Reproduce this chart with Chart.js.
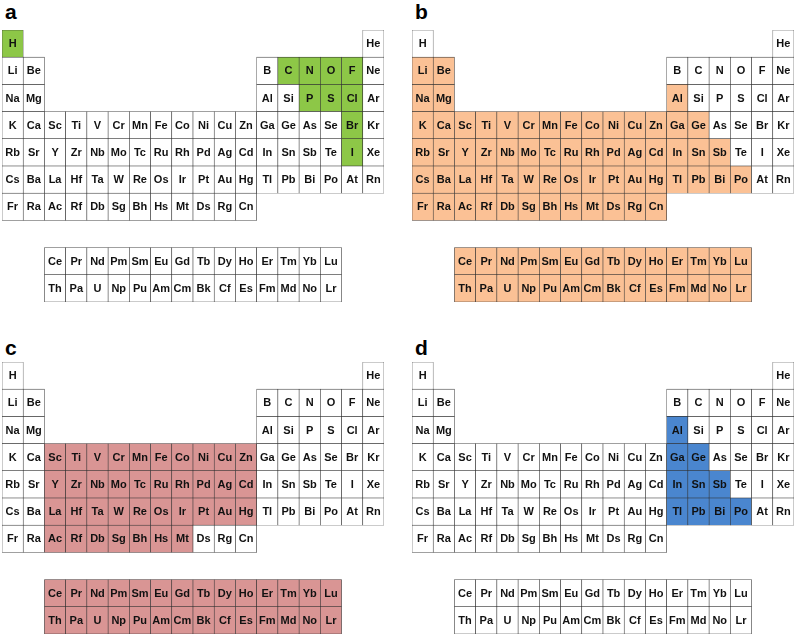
<!DOCTYPE html>
<html>
<head>
<meta charset="utf-8">
<script src="https://cdn.jsdelivr.net/npm/chart.js@4/dist/chart.umd.min.js"></script>
<style>
  body { margin: 0; background: #fff; width: 797px; height: 636px; position: relative; overflow: hidden; }
  .panel { position: absolute; width: 390px; height: 310px; }
  .tag { position: absolute; font: bold 21px "Liberation Sans", Arial, sans-serif; line-height: 21px; color: #000; }
</style>
</head>
<body>
<div class="tag" style="left:5px;top:1px">a</div>
<div class="tag" style="left:415px;top:1px">b</div>
<div class="tag" style="left:5px;top:337px">c</div>
<div class="tag" style="left:415px;top:337px">d</div>
<div class="panel" style="left:0;top:0"><canvas id="chartA" width="390" height="310"></canvas></div>
<div class="panel" style="left:410px;top:0"><canvas id="chartB" width="390" height="310"></canvas></div>
<div class="panel" style="left:0;top:332px"><canvas id="chartC" width="390" height="310"></canvas></div>
<div class="panel" style="left:410px;top:332px"><canvas id="chartD" width="390" height="310"></canvas></div>
<script>
// table layout, 18 groups per row ('' = empty cell)
const period1 = ['H','','','','','','','','','','','','','','','','','He'];
const period2 = ['Li','Be','','','','','','','','','','','B','C','N','O','F','Ne'];
const period3 = ['Na','Mg','','','','','','','','','','','Al','Si','P','S','Cl','Ar'];
const period4 = ['K','Ca','Sc','Ti','V','Cr','Mn','Fe','Co','Ni','Cu','Zn','Ga','Ge','As','Se','Br','Kr'];
const period5 = ['Rb','Sr','Y','Zr','Nb','Mo','Tc','Ru','Rh','Pd','Ag','Cd','In','Sn','Sb','Te','I','Xe'];
const period6 = ['Cs','Ba','La','Hf','Ta','W','Re','Os','Ir','Pt','Au','Hg','Tl','Pb','Bi','Po','At','Rn'];
const period7 = ['Fr','Ra','Ac','Rf','Db','Sg','Bh','Hs','Mt','Ds','Rg','Cn','','','','','',''];
const lanthanides = ['','','Ce','Pr','Nd','Pm','Sm','Eu','Gd','Tb','Dy','Ho','Er','Tm','Yb','Lu','',''];
const actinides = ['','','Th','Pa','U','Np','Pu','Am','Cm','Bk','Cf','Es','Fm','Md','No','Lr','',''];

const groupLabels = ['1','2','3','4','5','6','7','8','9','10','11','12','13','14','15','16','17','18'];
// row number of each block on the y scale (row 8 left empty)
const rowNumbers = [1, 2, 3, 4, 5, 6, 7, 9, 10];

// highlighted elements per panel
const highlightA = ['H','C','N','O','F','P','S','Cl','Br','I'];
const highlightB = ['Li','Be','Na','Mg','Al',
  'K','Ca','Sc','Ti','V','Cr','Mn','Fe','Co','Ni','Cu','Zn','Ga','Ge',
  'Rb','Sr','Y','Zr','Nb','Mo','Tc','Ru','Rh','Pd','Ag','Cd','In','Sn','Sb',
  'Cs','Ba','La','Hf','Ta','W','Re','Os','Ir','Pt','Au','Hg','Tl','Pb','Bi','Po',
  'Fr','Ra','Ac','Rf','Db','Sg','Bh','Hs','Mt','Ds','Rg','Cn',
  ...lanthanides.filter(s => s), ...actinides.filter(s => s)];
const highlightC = ['Sc','Ti','V','Cr','Mn','Fe','Co','Ni','Cu','Zn',
  'Y','Zr','Nb','Mo','Tc','Ru','Rh','Pd','Ag','Cd',
  'La','Hf','Ta','W','Re','Os','Ir','Pt','Au','Hg',
  'Ac','Rf','Db','Sg','Bh','Hs','Mt',
  ...lanthanides.filter(s => s), ...actinides.filter(s => s)];
const highlightD = ['Al','Ga','Ge','In','Sn','Sb','Tl','Pb','Bi','Po'];

const tableRows = [period1, period2, period3, period4, period5, period6, period7, lanthanides, actinides];

const cells = [];
tableRows.forEach((row, r) => {
  row.forEach((sym, g) => {
    if (sym) cells.push({ x: groupLabels[g], y: [rowNumbers[r] - 0.5, rowNumbers[r] + 0.5], sym: sym });
  });
});

const symbolLabels = {
  id: 'symbolLabels',
  afterDatasetsDraw(chart) {
    const ctx = chart.ctx;
    const meta = chart.getDatasetMeta(0);
    ctx.save();
    ctx.font = 'bold 11px "Liberation Sans", Arial, sans-serif';
    ctx.fillStyle = '#111';
    ctx.textAlign = 'center';
    ctx.textBaseline = 'middle';
    meta.data.forEach((bar, i) => {
      const cell = chart.data.datasets[0].data[i];
      ctx.fillText(cell.sym, bar.x, (bar.y + bar.base) / 2 + 0.5);
    });
    ctx.restore();
  }
};

function drawPanel(id, highlight, colour) {
  new Chart(document.getElementById(id), {
    type: 'bar',
    data: {
      labels: groupLabels,
      datasets: [{
        data: cells,
        backgroundColor: c => (c.raw && highlight.includes(c.raw.sym)) ? colour : '#ffffff',
        borderColor: '#333333',
        borderWidth: 0.6,
        borderSkipped: false,
        barPercentage: 1,
        categoryPercentage: 1
      }]
    },
    options: {
      responsive: false,
      animation: false,
      layout: { padding: { left: 2, top: 30, right: 6, bottom: 8 } },
      scales: {
        x: { type: 'category', display: false },
        y: { type: 'linear', min: 0.5, max: 10.5, reverse: true, display: false }
      },
      plugins: { legend: { display: false }, tooltip: { enabled: false } }
    },
    plugins: [symbolLabels]
  });
}

drawPanel('chartA', highlightA, '#8dc747');
drawPanel('chartB', highlightB, '#fbc195');
drawPanel('chartC', highlightC, '#d99594');
drawPanel('chartD', highlightD, '#4a86cf');
</script>
</body>
</html>
